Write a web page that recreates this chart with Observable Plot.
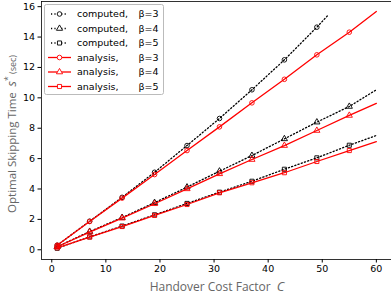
<!DOCTYPE html>
<html><head><meta charset="utf-8">
<script src="https://cdn.jsdelivr.net/npm/d3@7"></script>
<script src="https://cdn.jsdelivr.net/npm/@observablehq/plot@0.6"></script>
<style>body{margin:0;background:#fff} #chart{position:relative;width:391px;height:294px}</style>
</head><body><div id="chart"></div>
<script>
// Handover cost factor C for each series (markers every 6, line runs on to the end value)
const C = [1, 7, 13, 19, 25, 31, 37, 43, 49, 55, 60];
const C3comp = [1, 7, 13, 19, 25, 31, 37, 43, 49, 51];
const comp3 = [0.30, 1.88, 3.45, 5.10, 6.86, 8.64, 10.53, 12.50, 14.65, 15.41];
const comp4 = [0.20, 1.20, 2.12, 3.10, 4.12, 5.17, 6.20, 7.30, 8.40, 9.43, 10.53];
const comp5 = [0.10, 0.85, 1.56, 2.30, 3.05, 3.79, 4.51, 5.30, 6.05, 6.88, 7.52];
const ana3 = [0.30, 1.86, 3.40, 4.95, 6.53, 8.09, 9.67, 11.22, 12.83, 14.32, 15.68];
const ana4 = [0.20, 1.16, 2.08, 3.03, 4.01, 5.00, 5.94, 6.86, 7.85, 8.84, 9.64];
const ana5 = [0.13, 0.83, 1.53, 2.26, 2.98, 3.75, 4.41, 5.07, 5.81, 6.53, 7.12];
const markerC = [1, 7, 13, 19, 25, 31, 37, 43, 49, 55];
const xTicks = [0, 10, 20, 30, 40, 50, 60];
const yTicks = [0, 2, 4, 6, 8, 10, 12, 14, 16];
const betas = [3, 4, 5];
const legendLabels = [
  ["computed,", "β=3"], ["computed,", "β=4"], ["computed,", "β=5"],
  ["analysis,", "β=3"], ["analysis,", "β=4"], ["analysis,", "β=5"]
];

const rows = [];
function add(kind, beta, xs, ys) {
  xs.forEach((c, i) => rows.push({kind, beta, series: kind + beta, C: c, s: ys[i], marker: markerC.includes(c)}));
}
add("computed", 3, C3comp, comp3);
add("computed", 4, C, comp4);
add("computed", 5, C, comp5);
add("analysis", 3, C, ana3);
add("analysis", 4, C, ana4);
add("analysis", 5, C, ana5);
const comp = rows.filter(d => d.kind === "computed");
const ana = rows.filter(d => d.kind === "analysis");
const R = 2.3;
const DASH = "1.2,2.2";

const plot = Plot.plot({
  width: 391, height: 294,
  marginLeft: 41, marginRight: 0, marginTop: 1, marginBottom: 35,
  style: {fontFamily: "DejaVu Sans", fontSize: "9.5px", color: "#000", background: "#fff"},
  x: {domain: [-1.9, 62.8]},
  y: {domain: [-0.64, 16.34]},
  symbol: {domain: betas, range: ["circle", "triangle", "square"]},
  marks: [
    Plot.line(comp, {x: "C", y: "s", z: "series", stroke: "#000", strokeWidth: 1.3, strokeDasharray: DASH}),
    Plot.dot(comp.filter(d => d.marker), {x: "C", y: "s", symbol: "beta", r: R, stroke: "#000", strokeWidth: 0.9, fill: "none"}),
    Plot.line(ana, {x: "C", y: "s", z: "series", stroke: "#f00", strokeWidth: 1.3}),
    Plot.dot(ana.filter(d => d.marker), {x: "C", y: "s", symbol: "beta", r: R, stroke: "#f00", strokeWidth: 0.9, fill: "none"}),
    Plot.frame({stroke: "#000", strokeWidth: 0.8}),
    Plot.axisX({ticks: xTicks, tickSize: 3.5, tickPadding: 2, label: null}),
    Plot.axisY({ticks: yTicks, tickSize: 3.5, tickPadding: 3, label: null})
  ]
});
document.getElementById("chart").appendChild(plot);

const svg = d3.select(plot);
// axis labels
const xl = svg.append("text").attr("x", 217).attr("y", 290.5)
  .attr("text-anchor", "middle").attr("fill", "#666")
  .style("font-family", "Open Sans").style("font-size", "12px");
xl.append("tspan").text("Handover Cost Factor\u2002");
xl.append("tspan").attr("font-style", "italic").style("font-size", "13px").text("C");

const yl = svg.append("text").attr("transform", "translate(16,134) rotate(-90)")
  .attr("text-anchor", "middle").attr("fill", "#666")
  .style("font-family", "Open Sans").style("font-size", "11.5px");
yl.append("tspan").text("Optimal Skipping Time\u2002");
yl.append("tspan").attr("font-style", "italic").style("font-size", "12.5px").text("s");
yl.append("tspan").attr("dy", -5).style("font-size", "8.5px").text("*");
yl.append("tspan").attr("dy", 5).style("font-size", "9px").text(" (sec)");

// legend
const lg = svg.append("g").attr("text-anchor", "start");
lg.append("rect").attr("x", 44.5).attr("y", 4.5).attr("width", 119).attr("height", 90)
  .attr("rx", 2).attr("fill", "#fff").attr("fill-opacity", 0.85).attr("stroke", "#bbb");
const rowY = i => 14 + i * 14.5;
legendLabels.forEach((lab, i) => {
  const y = rowY(i);
  const isComp = i < 3;
  const col = isComp ? "#000" : "#f00";
  lg.append("line").attr("x1", isComp ? 51 : 48).attr("x2", isComp ? 68 : 71).attr("y1", y).attr("y2", y)
    .attr("stroke", col).attr("stroke-width", 1.3).attr("stroke-dasharray", isComp ? DASH : null);
  const type = [d3.symbolCircle, d3.symbolTriangle, d3.symbolSquare][i % 3];
  lg.append("path").attr("d", d3.symbol(type, Math.PI * R * R)())
    .attr("transform", `translate(59.5,${y})`).attr("fill", "#fff").attr("stroke", col).attr("stroke-width", 0.9);
  lg.append("text").attr("x", 77).attr("y", y).attr("dy", "0.35em").attr("text-anchor", "start").text(lab[0]);
  lg.append("text").attr("x", 138.5).attr("y", y).attr("dy", "0.35em").attr("text-anchor", "start").text(lab[1]);
});
</script></body></html>
